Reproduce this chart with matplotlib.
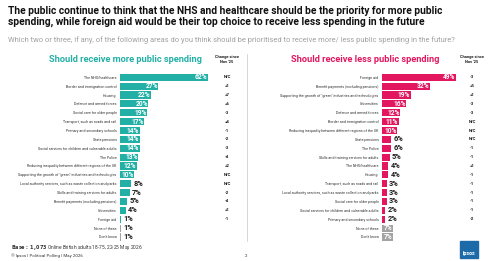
import matplotlib.pyplot as plt
import numpy as np

plt.rcParams['font.family'] = ['Roboto', 'DejaVu Sans']

W, H = 492, 261

# left panel: should receive more
more_labels = ["The NHS/healthcare", "Border and immigration control", "Housing",
               "Defence and armed forces", "Social care for older people",
               "Transport, such as roads and rail", "Primary and secondary schools",
               "State pensions", "Social services for children and vulnerable adults",
               "The Police", "Reducing inequality between different regions of the UK",
               "Supporting the growth of \"green\" industries and technologies",
               "Local authority services, such as waste collection and parks",
               "Skills and training services for adults", "Benefit payments (excluding pensions)",
               "Universities", "Foreign aid", "None of these", "Don't know"]
more_values = [62, 27, 22, 20, 19, 17, 14, 14, 14, 13, 12, 10, 8, 7, 5, 4, 1, 1, 1]
more_change = ["N/C", "+1", "+7", "+6", "-3", "+4", "-1", "-2", "-3", "-4", "+2",
               "N/C", "N/C", "-2", "-4", "+1", "-1", "", ""]

# right panel: should receive less
less_labels = ["Foreign aid", "Benefit payments (excluding pensions)",
               "Supporting the growth of \"green\" industries and technologies",
               "Universities", "Defence and armed forces", "Border and immigration control",
               "Reducing inequality between different regions of the UK", "State pensions",
               "The Police", "Skills and training services for adults", "The NHS/healthcare",
               "Housing", "Transport, such as roads and rail",
               "Local authority services, such as waste collection and parks",
               "Social care for older people",
               "Social services for children and vulnerable adults",
               "Primary and secondary schools", "None of these", "Don't know"]
less_values = [49, 32, 19, 16, 12, 11, 10, 6, 6, 5, 4, 4, 3, 3, 3, 2, 2, 7, 7]
less_change = ["-3", "+5", "+1", "-3", "-3", "N/C", "N/C", "N/C", "-1", "-1", "+1",
               "-1", "-1", "-1", "-1", "-1", "-2", "", ""]

TEAL = "#22b0a6"
PINK = "#e2175f"
GREY = "#a3a3a3"

fig = plt.figure(figsize=(W / 100, H / 100), dpi=100)


def px(x, y):
    return x / W, 1 - y / H


row_h = 8.87
top_px = 77.3 - row_h / 2
n = len(more_labels)
ax_bottom = 1 - (top_px + n * row_h) / H
ax_height = n * row_h / H


def panel(left_px, scale, labels, values, changes, color, change_px, title, title_x):
    width_px = 100
    ax = fig.add_axes([left_px / W, ax_bottom, width_px / W, ax_height])
    y = np.arange(len(labels))
    cols = [GREY if l in ("None of these", "Don't know") else color for l in labels]
    ax.barh(y, values, height=0.8, color=cols)
    ax.set_xlim(0, width_px / scale)
    ax.set_ylim(len(labels) - 0.5, -0.5)
    ax.set_yticks(y, labels, fontsize=2.6, color="#333333")
    ax.set_xticks([])
    ax.tick_params(length=0, pad=2.5)
    for s in ax.spines.values():
        s.set_visible(False)
    ax.patch.set_alpha(0)
    cx = (change_px - left_px) / scale
    for i, (v, c, col) in enumerate(zip(values, changes, cols)):
        if v >= 10 or (col == GREY and v >= 5):
            ax.text(v - 0.4, i, f"{v}%", ha="right", va="center", color="white",
                    fontsize=4.8, fontweight="bold")
        else:
            ax.text(v + 1.6, i, f"{v}%", ha="left", va="center", color="#1a1a1a",
                    fontsize=5.3, fontweight="bold")
        ax.text(cx, i, c, ha="center", va="center", fontsize=3.2, fontweight="bold",
                color="#1a1a1a", clip_on=False)
    fig.text(*px(change_px, 59.5), "Change since\nNov '25", ha="center", va="center",
             fontsize=2.9, fontweight="bold", color="#1a1a1a", linespacing=1.1)
    fig.text(*px(title_x, 59), title, ha="center", va="center", fontsize=6.7,
             fontweight="bold", color=color)
    return ax


panel(120, 1.42, more_labels, more_values, more_change, TEAL, 227,
      "Should receive more public spending", 125)
panel(382, 1.51, less_labels, less_values, less_change, PINK, 472,
      "Should receive less public spending", 365)

# title and subtitle
fig.text(*px(8, 16.5),
         "The public continue to think that the NHS and healthcare should be the priority for more public\n"
         "spending, while foreign aid would be their top choice to receive less spending in the future",
         ha="left", va="center", fontsize=7.4, fontweight="bold", color="#111111", linespacing=1.2)
fig.text(*px(8, 40),
         "Which two or three, if any, of the following areas do you think should be prioritised "
         "to receive more/ less public spending in the future?",
         ha="left", va="center", fontsize=5.4, color="#a0a0a0")

# divider
fig.add_artist(plt.Line2D([247 / W, 247 / W], [1 - 54 / H, 1 - 241 / H],
                          color="#cfcfcf", lw=0.6))

# footer
fig.text(*px(11, 247.5), r"$\bf{Base:\ 1,073}$ Online British adults 18-75, 22-25 May 2026",
         ha="left", va="center", fontsize=3.5, color="#333333")
fig.text(*px(11, 256), "\u00a9 Ipsos | Political Polling | May 2026",
         ha="left", va="center", fontsize=3.2, color="#333333")
fig.text(*px(246, 256), "2", ha="center", va="center", fontsize=3.2, color="#333333")

# logo
fig.add_artist(plt.Rectangle(px(460, 258), 18 / W, 17 / H, color="#1d6aa8"))
fig.text(*px(469, 253.5), "Ipsos", ha="center", va="center", fontsize=3.8,
         fontweight="bold", color="white")

fig.savefig("out.png", dpi=100, facecolor="white")
